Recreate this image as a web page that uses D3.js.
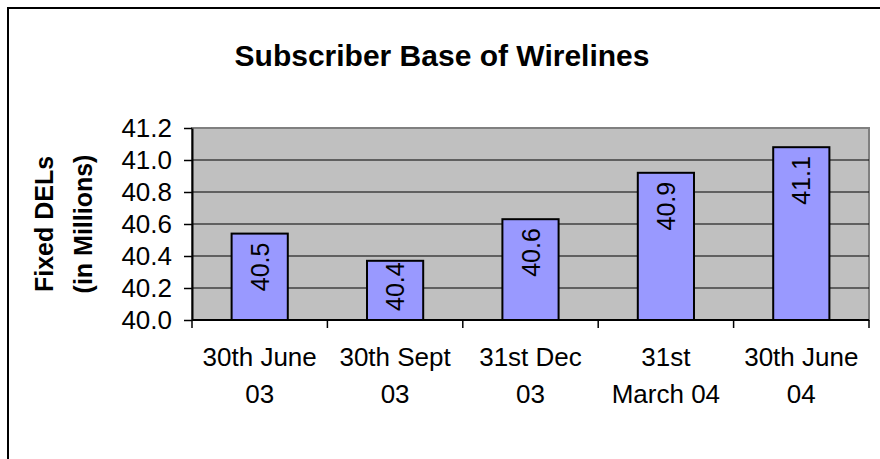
<!DOCTYPE html>
<html>
<head>
<meta charset="utf-8">
<script src="https://cdn.jsdelivr.net/npm/d3@7"></script>
<style>
  html, body { margin: 0; padding: 0; background: #fff; }
  svg { display: block; font-family: "Liberation Sans", Arial, sans-serif; }
</style>
</head>
<body>
<div id="container"></div>
<script>
// chart data
const categories = [["30th June", "03"], ["30th Sept", "03"], ["31st Dec", "03"], ["31st", "March 04"], ["30th June", "04"]];
const values = [40.54, 40.37, 40.63, 40.92, 41.08];
const yTicks = [40.0, 40.2, 40.4, 40.6, 40.8, 41.0, 41.2];
const titleText = "Subscriber Base of Wirelines";
const yTitle = ["Fixed DELs", "(in Millions)"];

function draw() {
    const width = 880;
    const height = 459;

    const plotLeft = 192;
    const plotRight = 869;
    const plotTop = 128;
    const plotBottom = 320;

    const svg = d3.select('#container')
        .append('svg')
        .attr('width', width)
        .attr('height', height)
        .attr('viewBox', `0 0 ${width} ${height}`);

    // outer chart border (cut off on right and bottom)
    svg.append('rect')
        .attr('x', 8)
        .attr('y', 8)
        .attr('width', width + 20)
        .attr('height', height + 20)
        .attr('fill', 'white')
        .attr('stroke', '#000')
        .attr('stroke-width', 2);

    svg.append('text')
        .text(titleText)
        .attr('x', 442)
        .attr('y', 66)
        .attr('text-anchor', 'middle')
        .style('font-size', '30px')
        .style('font-weight', 'bold');

    const x = d3.scaleBand()
        .domain(d3.range(categories.length))
        .range([plotLeft, plotRight]);

    const y = d3.scaleLinear()
        .domain([yTicks[0], yTicks[yTicks.length - 1]])
        .range([plotBottom, plotTop]);

    // plot area
    svg.append('rect')
        .attr('x', plotLeft)
        .attr('y', plotTop)
        .attr('width', plotRight - plotLeft)
        .attr('height', plotBottom - plotTop)
        .attr('fill', '#c0c0c0')
        .attr('stroke', '#808080')
        .attr('stroke-width', 2);

    // gridlines
    svg.append('g')
        .selectAll('line')
        .data(yTicks.slice(1, -1))
        .join('line')
        .attr('x1', plotLeft)
        .attr('x2', plotRight)
        .attr('y1', d => y(d))
        .attr('y2', d => y(d))
        .attr('stroke', '#000')
        .attr('stroke-width', 1);

    // y axis
    const yAxis = svg.append('g')
        .attr('transform', `translate(${plotLeft},0)`)
        .call(d3.axisLeft(y)
            .tickValues(yTicks)
            .tickFormat(d3.format('.1f'))
            .tickSize(8)
            .tickSizeOuter(0)
            .tickPadding(12));
    yAxis.select('.domain').attr('stroke', '#000').attr('stroke-width', 2);
    yAxis.selectAll('.tick line').attr('stroke', '#000').attr('stroke-width', 1.5);
    yAxis.selectAll('.tick text')
        .attr('fill', '#000')
        .style('font-size', '26px')
        .style('font-family', '"Liberation Sans", Arial, sans-serif');

    // bars
    const barW = x.bandwidth() * 0.415;
    svg.append('g')
        .selectAll('rect')
        .data(values)
        .join('rect')
        .attr('x', (d, i) => x(i) + (x.bandwidth() - barW) / 2)
        .attr('y', d => y(d))
        .attr('width', barW)
        .attr('height', d => plotBottom - y(d))
        .attr('fill', '#9999ff')
        .attr('stroke', '#000')
        .attr('stroke-width', 2);

    // value labels, rotated inside the bars
    const fmt = d3.format('.1f');
    const labels = svg.append('g')
        .selectAll('text')
        .data(values)
        .join('text')
        .text(d => fmt(d))
        .attr('text-anchor', 'end')
        .attr('dominant-baseline', 'central')
        .style('font-size', '25px');
    labels.each(function(d, i) {
        const len = this.getComputedTextLength();
        const cy = Math.min(y(d) + 9, plotBottom - 9 - len);
        const cx = x(i) + x.bandwidth() / 2;
        d3.select(this).attr('transform', `translate(${cx},${cy}) rotate(-90)`);
    });

    // x axis line and ticks
    svg.append('line')
        .attr('x1', plotLeft)
        .attr('x2', plotRight)
        .attr('y1', plotBottom)
        .attr('y2', plotBottom)
        .attr('stroke', '#000')
        .attr('stroke-width', 2);

    const bounds = d3.range(categories.length).map(i => x(i)).concat([plotRight]);
    svg.append('g')
        .selectAll('line')
        .data(bounds)
        .join('line')
        .attr('x1', d => d)
        .attr('x2', d => d)
        .attr('y1', plotBottom)
        .attr('y2', plotBottom + 8)
        .attr('stroke', '#000')
        .attr('stroke-width', 1.5);

    const catText = svg.append('g')
        .selectAll('text')
        .data(categories)
        .join('text')
        .attr('text-anchor', 'middle')
        .style('font-size', '26px');
    catText.selectAll('tspan')
        .data((d, i) => d.map(line => ({ line, i })))
        .join('tspan')
        .attr('x', d => x(d.i) + x.bandwidth() / 2)
        .attr('y', (d, j) => 366 + j * 37)
        .text(d => d.line);

    // y axis title
    svg.append('text')
        .attr('transform', 'translate(0,224) rotate(-90)')
        .attr('text-anchor', 'middle')
        .style('font-size', '25px')
        .style('font-weight', 'bold')
        .selectAll('tspan')
        .data(yTitle)
        .join('tspan')
        .attr('x', 0)
        .attr('y', (d, i) => 53 + i * 39)
        .text(d => d);
}

draw();
</script>
</body>
</html>
